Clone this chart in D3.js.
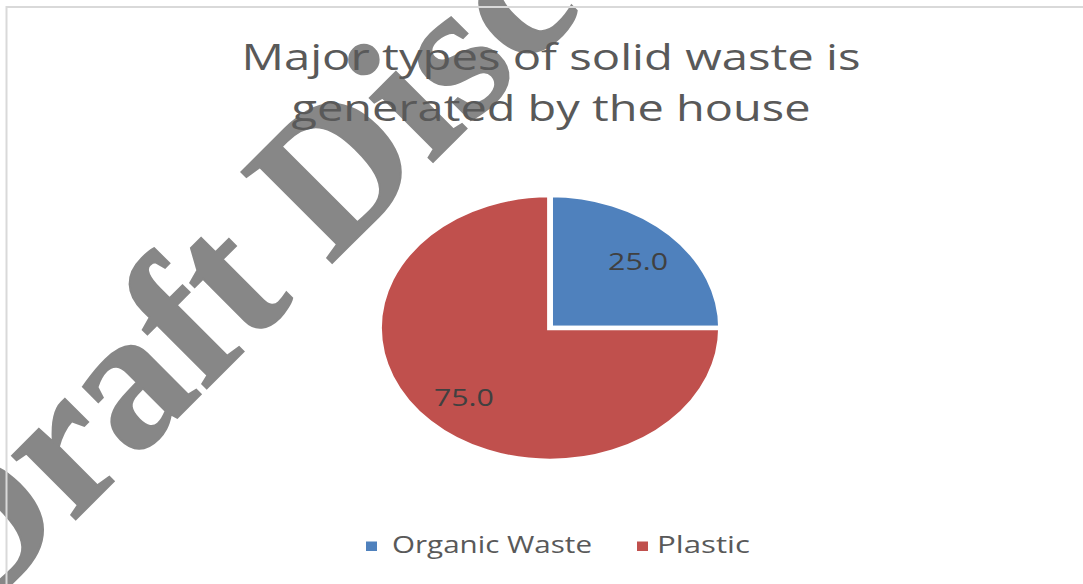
<!DOCTYPE html>
<html>
<head>
<meta charset="utf-8">
<script src="https://cdn.jsdelivr.net/npm/d3@7"></script>
<style>
  html, body { margin: 0; padding: 0; background: #fff; }
  svg { display: block; }
</style>
</head>
<body>
<svg id="chart" width="1083" height="584"></svg>
<script>
// ---------- DATA ----------
const titleLines = ["Major types of solid waste is", "generated by the house"];
const categories = ["Organic Waste", "Plastic"];
const values = [25.0, 75.0];
const sliceColors = ["#4F81BD", "#C0504D"];
const watermarkText = "Draft Disc";

// ---------- LAYOUT ----------
const W = 1083, H = 584;
const cx = 550, cy = 328;
const ry = 133;          // vertical radius
const sx = 171 / 133;    // picture is stretched sideways
const svg = d3.select("#chart");

// watermark sits under everything else
svg.append("text")
  .attr("transform", "translate(-28,623) rotate(-45)")
  .attr("font-family", "Liberation Serif, serif")
  .attr("font-weight", "bold")
  .attr("font-size", 196)
  .attr("fill", "#878787")
  .attr("stroke", "#878787")
  .attr("stroke-width", 2)
  .text(watermarkText);

// chart frame (only top/left edges fall inside the picture)
svg.append("rect")
  .attr("x", 6.5).attr("y", 7)
  .attr("width", 1200).attr("height", 1000)
  .attr("fill", "none")
  .attr("stroke", "#d9d9d9")
  .attr("stroke-width", 2);

// ---------- TITLE ----------
const titleWidths = [619, 519];
const titleBase = [70, 121];
svg.selectAll("text.title")
  .data(titleLines)
  .join("text")
  .attr("class", "title")
  .attr("x", cx + 1)
  .attr("y", (d, i) => titleBase[i])
  .attr("text-anchor", "middle")
  .attr("font-family", "Open Sans, sans-serif")
  .attr("font-size", 36)
  .attr("fill", "#595959")
  .attr("textLength", (d, i) => titleWidths[i])
  .attr("lengthAdjust", "spacingAndGlyphs")
  .text(d => d);

// ---------- PIE ----------
const pie = d3.pie().sort(null).value(d => d);
const arcs = pie(values);
const arc = d3.arc().innerRadius(0).outerRadius(ry);
const labelArc = d3.arc().innerRadius(ry * 0.72).outerRadius(ry * 0.72);

const g = svg.append("g")
  .attr("transform", `translate(${cx},${cy}) scale(${sx},1)`);

g.selectAll("path")
  .data(arcs)
  .join("path")
  .attr("d", arc)
  .attr("fill", (d, i) => sliceColors[i])
  .attr("stroke", "#fff")
  .attr("stroke-width", 4.5);

svg.selectAll("text.lbl")
  .data(arcs)
  .join("text")
  .attr("class", "lbl")
  .attr("x", d => cx + labelArc.centroid(d)[0] * sx + 1)
  .attr("y", d => cy + labelArc.centroid(d)[1] + 10)
  .attr("text-anchor", "middle")
  .attr("font-family", "Open Sans, sans-serif")
  .attr("font-size", 24)
  .attr("fill", "#404040")
  .attr("textLength", 60)
  .attr("lengthAdjust", "spacingAndGlyphs")
  .text(d => d.data.toFixed(1));

// ---------- LEGEND ----------
const legendX = [366, 637];
const legendW = [200, 93];
const legend = svg.selectAll("g.leg")
  .data(categories)
  .join("g")
  .attr("class", "leg")
  .attr("transform", (d, i) => `translate(${legendX[i]},0)`);

legend.append("rect")
  .attr("x", 0).attr("y", 541.5)
  .attr("width", 11).attr("height", 9.5)
  .attr("fill", (d, i) => sliceColors[i]);

legend.append("text")
  .attr("x", (d, i) => i === 0 ? 26 : 20)
  .attr("y", 553)
  .attr("font-family", "Open Sans, sans-serif")
  .attr("font-size", 24)
  .attr("fill", "#595959")
  .attr("textLength", (d, i) => legendW[i])
  .attr("lengthAdjust", "spacingAndGlyphs")
  .text(d => d);
</script>
</body>
</html>
